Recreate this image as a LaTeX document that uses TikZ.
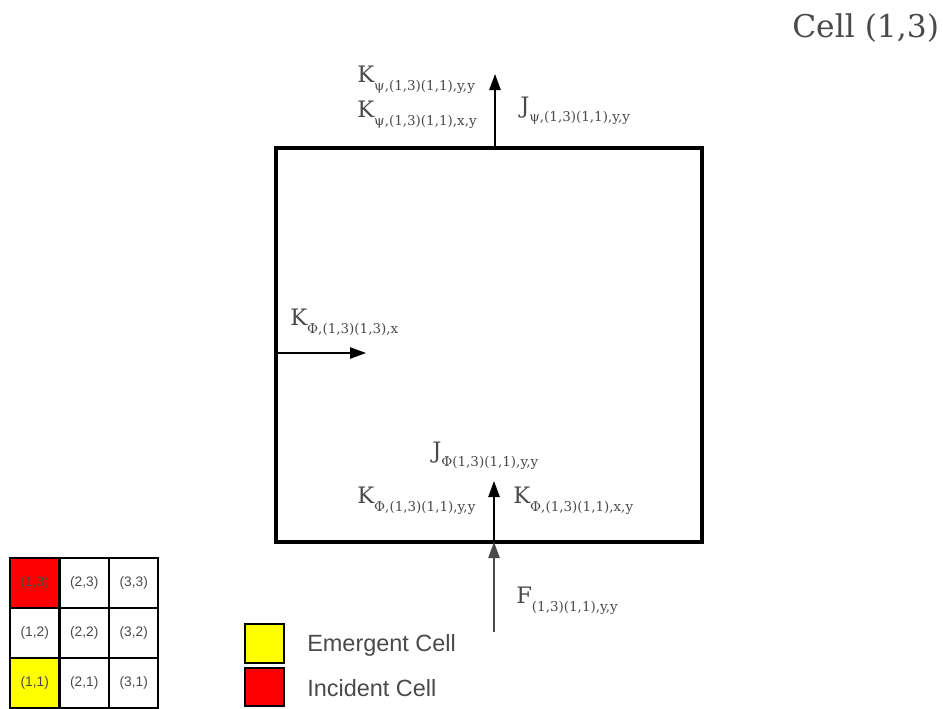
\documentclass[tikz,border=0pt]{standalone}
\usepackage{fontspec}
\setmainfont{DejaVu Serif}
\newfontfamily\legendfont{Liberation Sans}
\usetikzlibrary{arrows.meta}
\definecolor{labelgray}{HTML}{4A4A4A}
\definecolor{cellyellow}{HTML}{FFFF00}
\definecolor{cellred}{HTML}{FF0000}
% flux symbol with a lowered subscript
\newcommand\fluxlabel[2]{{\fontsize{17}{20}\selectfont #1}\raisebox{-6pt}{\fontsize{10.1}{12}\selectfont #2}}
\tikzset{
  fluxarrow/.style={line width=1.1pt, -{Triangle[length=12pt,width=8.5pt]}},
  fluxtext/.style={anchor=base west, inner sep=0pt, text=labelgray},
  gridcell/.style={draw=black, line width=1.5pt, minimum width=37.1pt, minimum height=37.5pt, inner sep=0pt, text=labelgray, font=\legendfont\fontsize{10.3}{12}\selectfont},
  legendbox/.style={draw=black, line width=1.5pt, minimum width=29pt, minimum height=29pt, inner sep=0pt},
  legendtext/.style={anchor=west, inner sep=0pt, text=labelgray, font=\legendfont\fontsize{17.6}{21}\selectfont}
}
\begin{document}
\begin{tikzpicture}[x=0.75pt,y=-0.75pt]
\useasboundingbox (0,0) rectangle (943,708);

% cell outline
\draw[line width=2.4pt] (276,148) rectangle (702,542);
\coordinate (topmid) at (495,148);
\coordinate (toptip) at (495,74);
\coordinate (leftmid) at (276,353);
\coordinate (lefttip) at (366,353);
\coordinate (botmid) at (494,542);
\coordinate (bottip) at (494,481);
\coordinate (inbase) at (494,632);

% flux arrows
\draw[fluxarrow] (topmid) -- (toptip);
\draw[fluxarrow] (leftmid) -- (lefttip);
\draw[fluxarrow] (botmid) -- (bottip);
\draw[fluxarrow, draw=labelgray] (inbase) -- (botmid);

% labels
\node[fluxtext] (kpsiyy) at (357,82) {\fluxlabel{K}{ψ,(1,3)(1,1),y,y}};
\node[fluxtext] (kpsixy) at (357,117) {\fluxlabel{K}{ψ,(1,3)(1,1),x,y}};
\node[fluxtext] (jpsi) at (520,113) {\fluxlabel{J}{ψ,(1,3)(1,1),y,y}};
\node[fluxtext] (kphix) at (290,325) {\fluxlabel{K}{Φ,(1,3)(1,3),x}};
\node[fluxtext] (jphi) at (432,458) {\fluxlabel{J}{Φ(1,3)(1,1),y,y}};
\node[fluxtext] (kphiyy) at (357,503) {\fluxlabel{K}{Φ,(1,3)(1,1),y,y}};
\node[fluxtext] (kphixy) at (513,503) {\fluxlabel{K}{Φ,(1,3)(1,1),x,y}};
\node[fluxtext] (fin) at (516,603) {\fluxlabel{F}{(1,3)(1,1),y,y}};
\node[fluxtext, font=\fontsize{23.5}{28}\selectfont] (title) at (792,37) {Cell (1,3)};

% 3x3 grid of cells
\node[gridcell, fill=cellred] (c13) at (34.75,583) {(1,3)};
\node[gridcell] (c23) at (84.25,583) {(2,3)};
\node[gridcell] (c33) at (133.75,583) {(3,3)};
\node[gridcell] (c12) at (34.75,633) {(1,2)};
\node[gridcell] (c22) at (84.25,633) {(2,2)};
\node[gridcell] (c32) at (133.75,633) {(3,2)};
\node[gridcell, fill=cellyellow] (c11) at (34.75,683) {(1,1)};
\node[gridcell] (c21) at (84.25,683) {(2,1)};
\node[gridcell] (c31) at (133.75,683) {(3,1)};

% legend
\node[legendbox, fill=cellyellow] (emerg) at (264.5,643.5) {};
\node[legendbox, fill=cellred] (incid) at (264.5,687) {};
\node[legendtext] (emergtext) at (307,645) {Emergent Cell};
\node[legendtext] (incidtext) at (307,688) {Incident Cell};
\end{tikzpicture}
\end{document}
